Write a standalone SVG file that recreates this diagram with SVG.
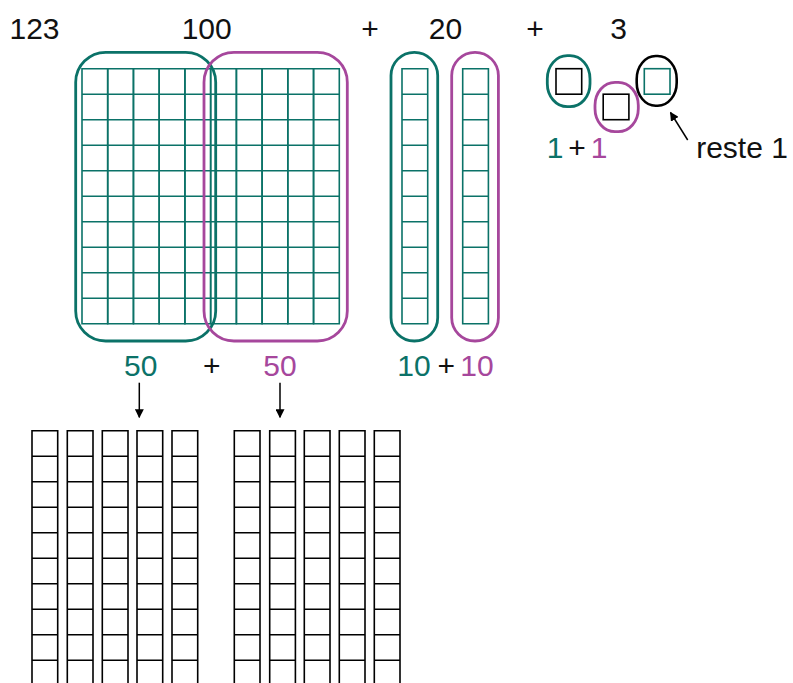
<svg xmlns="http://www.w3.org/2000/svg" width="793" height="683" viewBox="0 0 793 683">
<style>
text{font-family:"Liberation Sans",Arial,sans-serif;font-size:30px;fill:#111;text-anchor:middle}
.t{fill:#0b7268}.m{fill:#a6479c}
.ot{fill:none;stroke:#0b7268;stroke-width:2.8}
.om{fill:none;stroke:#a6479c;stroke-width:2.8}
.ok{fill:none;stroke:#000;stroke-width:2.6}
.gt{fill:none;stroke:#0b7268;stroke-width:1.6}
.gk{fill:none;stroke:#000;stroke-width:1.6}
.arr{stroke:#000;stroke-width:1.5;fill:none}
</style>
<defs>
<path id="col" d="M0 0H25.7V255H0Z M0 25.5H25.7 M0 51H25.7 M0 76.5H25.7 M0 102H25.7 M0 127.5H25.7 M0 153H25.7 M0 178.5H25.7 M0 204H25.7 M0 229.5H25.7"/>
<marker id="ah" viewBox="0 0 10 10" refX="9" refY="5" markerWidth="9" markerHeight="9" markerUnits="userSpaceOnUse" orient="auto"><path d="M0 0L10 5L0 10Z" fill="#000"/></marker>
</defs>

<g id="labels-top">
<text x="34.5" y="39.3">123</text>
<text x="206.7" y="39.3">100</text>
<text x="370" y="39.3">+</text>
<text x="445.5" y="39.3">20</text>
<text x="535" y="39.3">+</text>
<text x="618.5" y="39.3">3</text>
</g>

<g id="hundred">
<g class="gt">
<use href="#col" x="82" y="68.7"/>
<use href="#col" x="107.7" y="68.7"/>
<use href="#col" x="133.5" y="68.7"/>
<use href="#col" x="159.2" y="68.7"/>
<use href="#col" x="184.9" y="68.7"/>
<use href="#col" x="210.7" y="68.7"/>
<use href="#col" x="236.4" y="68.7"/>
<use href="#col" x="262.1" y="68.7"/>
<use href="#col" x="287.8" y="68.7"/>
<use href="#col" x="313.6" y="68.7"/>
</g>
</g>
<g id="group-teal-50"><rect class="ot" x="75.7" y="52.3" width="140" height="288.7" rx="30"/></g>
<g id="group-magenta-50"><rect class="om" x="204" y="52.3" width="143.3" height="288.7" rx="30"/></g>

<g id="ten-teal">
<use class="gt" href="#col" x="402" y="68.7"/>
<rect class="ot" x="391" y="52.3" width="46.7" height="288.7" rx="23.3"/>
</g>
<g id="ten-magenta">
<use class="gt" href="#col" x="462.7" y="68.7"/>
<rect class="om" x="451.7" y="52.3" width="46.7" height="288.7" rx="23.3"/>
</g>

<g id="unit-teal">
<rect class="gk" x="556" y="68.7" width="25.7" height="25.5"/>
<rect class="ot" x="547.3" y="55.7" width="42.7" height="51" rx="20" ry="23"/>
</g>
<g id="unit-magenta">
<rect class="gk" x="603.2" y="94.2" width="25.7" height="25.5"/>
<rect class="om" x="595" y="82.3" width="43.3" height="49.4" rx="20" ry="23"/>
</g>
<g id="unit-rest">
<rect class="gt" x="644.3" y="68.7" width="25.7" height="25.5"/>
<rect class="ok" x="636.7" y="56" width="40" height="49.7" rx="19" ry="23"/>
</g>

<g id="labels-units">
<text class="t" x="555" y="158.3">1</text>
<text x="577" y="158.3">+</text>
<text class="m" x="599" y="158.3">1</text>
<text x="742" y="158.3">reste 1</text>
</g>

<g id="labels-bottom">
<text class="t" x="140.7" y="376">50</text>
<text x="211.7" y="376">+</text>
<text class="m" x="280" y="376">50</text>
<text class="t" x="414" y="376">10</text>
<text x="446.3" y="376">+</text>
<text class="m" x="477" y="376">10</text>
</g>

<g id="connectors">
<line class="arr" x1="139.3" y1="382.7" x2="139.3" y2="417.3" marker-end="url(#ah)"/>
<line class="arr" x1="280" y1="382.7" x2="280" y2="417.3" marker-end="url(#ah)"/>
<line class="arr" x1="687.7" y1="140" x2="670.5" y2="112.5" marker-end="url(#ah)"/>
</g>

<g id="tens-left" class="gk">
<use href="#col" x="32" y="430.7"/>
<use href="#col" x="67.3" y="430.7"/>
<use href="#col" x="102.3" y="430.7"/>
<use href="#col" x="137" y="430.7"/>
<use href="#col" x="172" y="430.7"/>
</g>
<g id="tens-right" class="gk">
<use href="#col" x="234.3" y="430.7"/>
<use href="#col" x="269.7" y="430.7"/>
<use href="#col" x="304.3" y="430.7"/>
<use href="#col" x="339.3" y="430.7"/>
<use href="#col" x="374.3" y="430.7"/>
</g>
</svg>
